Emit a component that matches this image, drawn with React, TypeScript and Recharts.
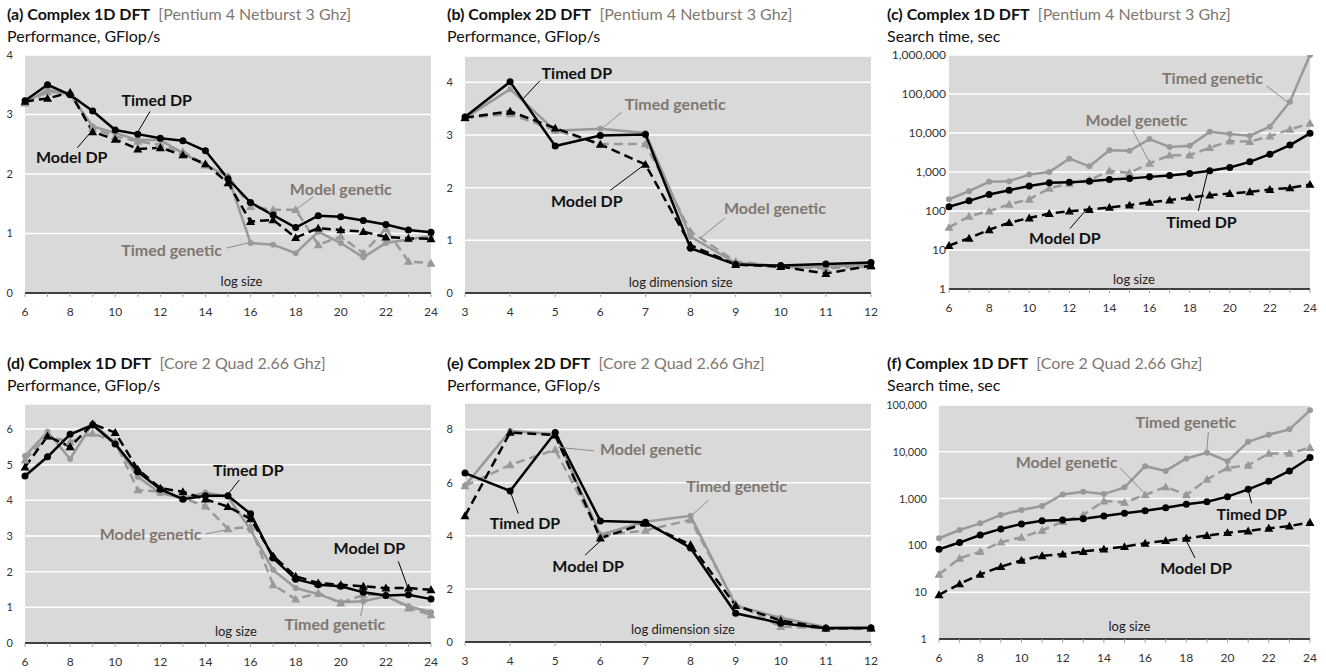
import {
  LineChart,
  Line,
  XAxis,
  YAxis,
  CartesianGrid,
  ReferenceLine,
  ReferenceDot,
} from 'recharts';

const FONT = 'Lato, "Open Sans", sans-serif';
const GRAY = '#999999';
const TEXT_GRAY = '#7f7770';

// x categories
const sizes1D = [6, 7, 8, 9, 10, 11, 12, 13, 14, 15, 16, 17, 18, 19, 20, 21, 22, 23, 24];
const dims2D = [3, 4, 5, 6, 7, 8, 9, 10, 11, 12];

// (a) Complex 1D DFT, Pentium 4 - GFlop/s
const aTimedDP = [3.23, 3.5, 3.33, 3.06, 2.74, 2.67, 2.6, 2.56, 2.39, 1.92, 1.52, 1.31, 1.1, 1.3, 1.28, 1.22, 1.15, 1.06, 1.02];
const aModelDP = [3.22, 3.27, 3.37, 2.71, 2.58, 2.42, 2.44, 2.32, 2.17, 1.85, 1.2, 1.23, 0.93, 1.09, 1.06, 1.03, 0.94, 0.92, 0.91];
const aTimedGen = [3.19, 3.42, 3.33, 2.8, 2.69, 2.57, 2.57, 2.35, 2.15, 1.96, 0.84, 0.81, 0.67, 1.03, 0.84, 0.6, 0.84, 0.9, 0.96];
const aModelGen = [3.19, 3.38, 3.36, 2.77, 2.63, 2.55, 2.49, 2.38, 2.15, 1.96, 1.45, 1.4, 1.4, 0.81, 0.95, 0.67, 1.08, 0.53, 0.5];

// (b) Complex 2D DFT, Pentium 4 - GFlop/s
const bTimedDP = [3.34, 4.01, 2.79, 2.99, 3.01, 0.85, 0.54, 0.52, 0.55, 0.58];
const bModelDP = [3.33, 3.45, 3.13, 2.82, 2.44, 0.91, 0.54, 0.5, 0.37, 0.52];
const bTimedGen = [3.32, 3.87, 3.08, 3.12, 3.04, 1.07, 0.57, 0.5, 0.5, 0.54];
const bModelGen = [3.32, 3.4, 3.09, 2.83, 2.83, 1.17, 0.6, 0.5, 0.47, 0.5];

// (c) Complex 1D DFT, Pentium 4 - search time, sec
const cTimedGen = [200, 323, 560, 580, 860, 1000, 2200, 1400, 3600, 3500, 7000, 4400, 4700, 10700, 9400, 8500, 14500, 63500, 1000000];
const cModelGen = [38, 73, 99, 148, 200, 380, 510, 620, 1070, 950, 1660, 2700, 2700, 4200, 6200, 6000, 8300, 12400, 17700];
const cTimedDP = [128, 182, 265, 342, 440, 530, 550, 580, 645, 680, 750, 810, 920, 1070, 1310, 1820, 2870, 4900, 9800];
const cModelDP = [13, 20, 33, 50, 66, 86, 99, 109, 123, 141, 166, 190, 222, 255, 280, 310, 355, 390, 480];

// (d) Complex 1D DFT, Core 2 Quad - GFlop/s
const dTimedDP = [4.68, 5.22, 5.85, 6.11, 5.58, 4.8, 4.31, 4.03, 4.13, 4.13, 3.62, 2.38, 1.79, 1.63, 1.59, 1.42, 1.33, 1.35, 1.23];
const dModelDP = [4.93, 5.8, 5.5, 6.14, 5.9, 4.87, 4.34, 4.24, 4.03, 3.82, 3.48, 2.44, 1.87, 1.68, 1.63, 1.59, 1.54, 1.54, 1.49];
const dTimedGen = [5.24, 5.92, 5.16, 6.16, 5.6, 4.66, 4.2, 4.06, 4.22, 4.1, 3.17, 2.05, 1.54, 1.37, 1.14, 1.17, 1.31, 1.03, 0.86];
const dModelGen = [5.13, 5.8, 5.64, 5.88, 5.64, 4.29, 4.24, 4.06, 3.84, 3.2, 3.26, 1.63, 1.23, 1.4, 1.12, 1.35, 1.35, 0.98, 0.79];

// (e) Complex 2D DFT, Core 2 Quad - GFlop/s
const eTimedDP = [6.36, 5.69, 7.89, 4.56, 4.51, 3.54, 1.08, 0.71, 0.52, 0.53];
const eModelDP = [4.75, 7.89, 7.79, 3.91, 4.47, 3.66, 1.37, 0.81, 0.52, 0.52];
const eTimedGen = [5.88, 7.95, 7.83, 4.04, 4.53, 4.75, 1.37, 0.91, 0.56, 0.56];
const eModelGen = [5.88, 6.67, 7.24, 4.01, 4.2, 4.6, 1.43, 0.58, 0.52, 0.52];

// (f) Complex 1D DFT, Core 2 Quad - search time, sec
const fTimedGen = [142, 213, 296, 448, 573, 695, 1230, 1400, 1250, 1740, 4930, 3900, 7200, 9600, 6300, 16300, 23200, 30200, 77000];
const fModelGen = [24, 53, 74, 117, 149, 208, 322, 448, 888, 830, 1200, 1780, 1200, 2560, 4550, 5150, 9200, 9200, 12300];
const fTimedDP = [83, 115, 167, 225, 288, 338, 350, 372, 424, 485, 550, 640, 755, 860, 1100, 1580, 2360, 3900, 7550];
const fModelDP = [8.8, 15, 24, 35, 48, 60, 65, 74, 83, 94, 111, 126, 142, 162, 187, 203, 232, 259, 308];

const perfTicks4 = [0, 1, 2, 3, 4];
const perfTicks6 = [0, 1, 2, 3, 4, 5, 6];
const perfTicks8 = [0, 2, 4, 6, 8];
const logTicks6 = [1, 10, 100, 1000, 10000, 100000, 1000000];
const logTicks5 = [1, 10, 100, 1000, 10000, 100000];

type Note = { text: string; x: number; y: number; seg?: [number, number, number, number]; gray?: boolean; small?: boolean };

const aNotes: Note[] = [
  { text: 'Timed DP', x: 11.84, y: 3.23, seg: [11.54, 3.05, 10.98, 2.69] },
  { text: 'Model DP', x: 8.07, y: 2.28, seg: [8.32, 2.44, 9.0, 2.74] },
  { text: 'Model genetic', x: 20.0, y: 1.75, seg: [18.78, 1.62, 18.01, 1.4], gray: true },
  { text: 'Timed genetic', x: 12.5, y: 0.72, seg: [14.94, 0.755, 15.97, 0.85], gray: true },
  { text: 'log size', x: 15.6, y: 0.2, small: true },
];
const bNotes: Note[] = [
  { text: 'Timed DP', x: 5.48, y: 4.17, seg: [4.66, 4.03, 4.29, 3.69] },
  { text: 'Timed genetic', x: 7.66, y: 3.59, seg: [6.47, 3.43, 5.99, 3.09], gray: true },
  { text: 'Model DP', x: 5.7, y: 1.75, seg: [6.22, 1.95, 6.97, 2.43] },
  { text: 'Model genetic', x: 9.87, y: 1.61, seg: [8.76, 1.42, 8.21, 1.04], gray: true },
  { text: 'log dimension size', x: 7.78, y: 0.2, small: true },
];
const cNotes: Note[] = [
  { text: 'Timed genetic', x: 19.14, y: 251000, seg: [21.83, 162000, 22.86, 63000], gray: true },
  { text: 'Model genetic', x: 15.35, y: 21400, seg: [15.15, 12000, 15.98, 1820], gray: true },
  { text: 'Timed DP', x: 18.59, y: 50, seg: [18.43, 100, 18.92, 1120] },
  { text: 'Model DP', x: 11.78, y: 19.5, seg: [12.03, 35.5, 12.86, 110] },
  { text: 'log size', x: 15.22, y: 1.74, small: true },
];
const dNotes: Note[] = [
  { text: 'Timed DP', x: 15.9, y: 4.85, seg: [15.5, 4.57, 15.01, 4.18] },
  { text: 'Model genetic', x: 11.57, y: 3.06, seg: [14.02, 3.06, 15.09, 3.19], gray: true },
  { text: 'Model DP', x: 21.27, y: 2.66, seg: [22.55, 2.29, 22.95, 1.59] },
  { text: 'Timed genetic', x: 19.74, y: 0.51, seg: [20.88, 0.75, 21.03, 1.19], gray: true },
  { text: 'log size', x: 15.35, y: 0.33, small: true },
];
const eNotes: Note[] = [
  { text: 'Model genetic', x: 7.12, y: 7.24, seg: [5.86, 7.2, 5.07, 7.33], gray: true },
  { text: 'Timed genetic', x: 9.02, y: 5.88, seg: [8.4, 5.34, 8.03, 4.78], gray: true },
  { text: 'Timed DP', x: 4.33, y: 4.47, seg: [4.18, 4.84, 4.0, 5.68] },
  { text: 'Model DP', x: 5.73, y: 2.86, seg: [5.66, 3.27, 6.03, 3.85] },
  { text: 'log dimension size', x: 7.83, y: 0.47, small: true },
];
const fNotes: Note[] = [
  { text: 'Timed genetic', x: 17.98, y: 41700, seg: [19.07, 26300, 18.99, 10000], gray: true },
  { text: 'Model genetic', x: 12.19, y: 6000, seg: [14.78, 4570, 16.0, 1260], gray: true },
  { text: 'Timed DP', x: 21.17, y: 468, seg: [21.17, 794, 21.0, 1510] },
  { text: 'Model DP', x: 18.47, y: 32, seg: [18.42, 54, 17.94, 141] },
  { text: 'log size', x: 15.24, y: 1.86, small: true },
];

const rows = (xs: number[], td: number[], md: number[], tg: number[], mg: number[]) =>
  xs.map((x, i) => ({ x, timedDP: td[i], modelDP: md[i], timedGen: tg[i], modelGen: mg[i] }));

const Circle = (r: number, fill: string) => (p: any) => {
  if (p.cx == null || p.cy == null) return <g key={p.key} />;
  return <circle key={p.key} cx={p.cx} cy={p.cy} r={r} fill={fill} />;
};
const Tri = (s: number, fill: string) => (p: any) => {
  if (p.cx == null || p.cy == null) return <g key={p.key} />;
  const { cx, cy } = p;
  return <path key={p.key} d={`M${cx},${cy - s}L${cx + s},${cy + s * 0.75}L${cx - s},${cy + s * 0.75}Z`} fill={fill} />;
};

const XTick = (p: any) => {
  const v = p.payload.value;
  if (p.skipOdd && v % 2 !== 0) return <g />;
  return (
    <text x={p.x} y={p.y} dy="0.71em" textAnchor="middle" fontSize={12} fill="#333">
      {v}
    </text>
  );
};

const fmt = (v: number) => v.toLocaleString('en-US');

type PanelProps = {
  left: number;
  top: number;
  width: number;
  height: number;
  margin: { top: number; right: number; bottom: number; left: number };
  yWidth: number;
  yMargin: number;
  xHeight: number;
  title: string;
  cpu: string;
  subtitle: string;
  titleTop: number;
  data: any[];
  xs: number[];
  skipOdd: boolean;
  yDomain: [number, number];
  yTicks: number[];
  log?: boolean;
  yFont: number;
  notes: Note[];
};

function Panel(props: PanelProps) {
  const { left, top, width, height, margin, data, xs, notes } = props;
  return (
    <div style={{ position: 'absolute', left, top, width, height }}>
      <div
        style={{
          position: 'absolute',
          left: 7,
          top: props.titleTop,
          fontSize: 16,
          lineHeight: '20px',
          whiteSpace: 'nowrap',
        }}
      >
        <span style={{ fontWeight: 700, color: '#111' }}>{props.title}</span>
        <span style={{ color: TEXT_GRAY }}>{'\u00a0\u00a0' + props.cpu}</span>
      </div>
      <div
        style={{
          position: 'absolute',
          left: 7,
          top: props.titleTop + 22,
          fontSize: 16,
          lineHeight: '20px',
          color: '#111',
          whiteSpace: 'nowrap',
        }}
      >
        {props.subtitle}
      </div>
      <div style={{ position: 'absolute', left: 0, top: 0 }}>
        <LineChart width={width} height={height} data={data} margin={margin}>
          <CartesianGrid vertical={false} stroke="#ffffff" strokeWidth={1.5} fill="#d9d9d9" />
          <XAxis
            dataKey="x"
            type="number"
            domain={[xs[0], xs[xs.length - 1]]}
            ticks={xs}
            interval={0}
            height={props.xHeight}
            axisLine={{ stroke: '#000', strokeWidth: 1.5 }}
            tickLine={{ stroke: '#a6a6a6' }}
            tickSize={4}
            tickMargin={10}
            tick={(p: any) => <XTick {...p} skipOdd={props.skipOdd} />}
          />
          <YAxis
            type="number"
            scale={props.log ? 'log' : 'auto'}
            domain={props.yDomain}
            ticks={props.yTicks}
            interval={0}
            allowDataOverflow
            width={props.yWidth}
            axisLine={false}
            tickLine={false}
            tickSize={0}
            tickMargin={props.yMargin}
            tick={{ fontSize: props.yFont, fill: '#333' }}
            tickFormatter={fmt}
          />
          <Line
            dataKey="timedGen"
            stroke={GRAY}
            strokeWidth={2.5}
            dot={Circle(3, GRAY)}
            isAnimationActive={false}
          />
          <Line
            dataKey="modelGen"
            stroke={GRAY}
            strokeWidth={2.5}
            strokeDasharray="9 5"
            dot={Tri(4.5, GRAY)}
            isAnimationActive={false}
          />
          <Line
            dataKey="modelDP"
            stroke="#000"
            strokeWidth={2.5}
            strokeDasharray="9 5"
            dot={Tri(4.5, '#000')}
            isAnimationActive={false}
          />
          <Line
            dataKey="timedDP"
            stroke="#000"
            strokeWidth={2.5}
            dot={Circle(3.5, '#000')}
            isAnimationActive={false}
          />
          {notes
            .filter((n) => n.seg)
            .map((n, i) => (
              <ReferenceLine
                key={'s' + i}
                segment={[
                  { x: n.seg![0], y: n.seg![1] },
                  { x: n.seg![2], y: n.seg![3] },
                ]}
                stroke={n.gray ? '#8c8c8c' : '#000'}
                strokeWidth={1}
                ifOverflow="visible"
              />
            ))}
          {notes.map((n, i) => (
            <ReferenceDot
              key={'t' + i}
              x={n.x}
              y={n.y}
              r={1}
              fill="none"
              stroke="none"
              ifOverflow="visible"
              label={{
                value: n.text,
                position: 'center',
                fill: n.small ? '#222' : n.gray ? TEXT_GRAY : '#111',
                fontSize: n.small ? 13 : 16,
                fontWeight: n.small ? 400 : 700,
              }}
            />
          ))}
        </LineChart>
      </div>
    </div>
  );
}

export default function App() {
  return (
    <div
      style={{
        position: 'absolute',
        left: 0,
        top: 0,
        width: 1326,
        height: 672,
        background: '#fff',
        fontFamily: FONT,
        overflow: 'hidden',
      }}
    >
      <Panel
        left={0}
        top={0}
        width={440}
        height={330}
        margin={{ top: 55, right: 9, bottom: 7, left: 0 }}
        yWidth={25}
        yMargin={12}
        xHeight={30}
        title="(a) Complex 1D DFT"
        cpu="[Pentium 4 Netburst 3 Ghz]"
        subtitle="Performance, GFlop/s"
        titleTop={4}
        data={rows(sizes1D, aTimedDP, aModelDP, aTimedGen, aModelGen)}
        xs={sizes1D}
        skipOdd
        yDomain={[0, 4]}
        yTicks={perfTicks4}
        yFont={11}
        notes={aNotes}
      />
      <Panel
        left={440}
        top={0}
        width={440}
        height={330}
        margin={{ top: 56, right: 9, bottom: 7, left: 0 }}
        yWidth={25}
        yMargin={12}
        xHeight={30}
        title="(b) Complex 2D DFT"
        cpu="[Pentium 4 Netburst 3 Ghz]"
        subtitle="Performance, GFlop/s"
        titleTop={4}
        data={rows(dims2D, bTimedDP, bModelDP, bTimedGen, bModelGen)}
        xs={dims2D}
        skipOdd={false}
        yDomain={[0, 4.5]}
        yTicks={perfTicks4}
        yFont={11}
        notes={bNotes}
      />
      <Panel
        left={880}
        top={0}
        width={446}
        height={330}
        margin={{ top: 55, right: 16, bottom: 11, left: 0 }}
        yWidth={69}
        yMargin={3}
        xHeight={30}
        title="(c) Complex 1D DFT"
        cpu="[Pentium 4 Netburst 3 Ghz]"
        subtitle="Search time, sec"
        titleTop={4}
        data={rows(sizes1D, cTimedDP, cModelDP, cTimedGen, cModelGen)}
        xs={sizes1D}
        skipOdd
        yDomain={[1, 1000000]}
        yTicks={logTicks6}
        log
        yFont={12}
        notes={cNotes}
      />
      <Panel
        left={0}
        top={330}
        width={440}
        height={342}
        margin={{ top: 74, right: 9, bottom: 0, left: 0 }}
        yWidth={25}
        yMargin={12}
        xHeight={29}
        title="(d) Complex 1D DFT"
        cpu="[Core 2 Quad 2.66 Ghz]"
        subtitle="Performance, GFlop/s"
        titleTop={23}
        data={rows(sizes1D, dTimedDP, dModelDP, dTimedGen, dModelGen)}
        xs={sizes1D}
        skipOdd
        yDomain={[0, 6.7]}
        yTicks={perfTicks6}
        yFont={11}
        notes={dNotes}
      />
      <Panel
        left={440}
        top={330}
        width={440}
        height={342}
        margin={{ top: 73, right: 9, bottom: 0, left: 0 }}
        yWidth={25}
        yMargin={12}
        xHeight={30}
        title="(e) Complex 2D DFT"
        cpu="[Core 2 Quad 2.66 Ghz]"
        subtitle="Performance, GFlop/s"
        titleTop={23}
        data={rows(dims2D, eTimedDP, eModelDP, eTimedGen, eModelGen)}
        xs={dims2D}
        skipOdd={false}
        yDomain={[0, 9]}
        yTicks={perfTicks8}
        yFont={11}
        notes={eNotes}
      />
      <Panel
        left={880}
        top={330}
        width={446}
        height={342}
        margin={{ top: 75, right: 16, bottom: 3, left: 0 }}
        yWidth={59}
        yMargin={12}
        xHeight={30}
        title="(f) Complex 1D DFT"
        cpu="[Core 2 Quad 2.66 Ghz]"
        subtitle="Search time, sec"
        titleTop={23}
        data={rows(sizes1D, fTimedDP, fModelDP, fTimedGen, fModelGen)}
        xs={sizes1D}
        skipOdd
        yDomain={[1, 100000]}
        yTicks={logTicks5}
        log
        yFont={11}
        notes={fNotes}
      />
    </div>
  );
}
